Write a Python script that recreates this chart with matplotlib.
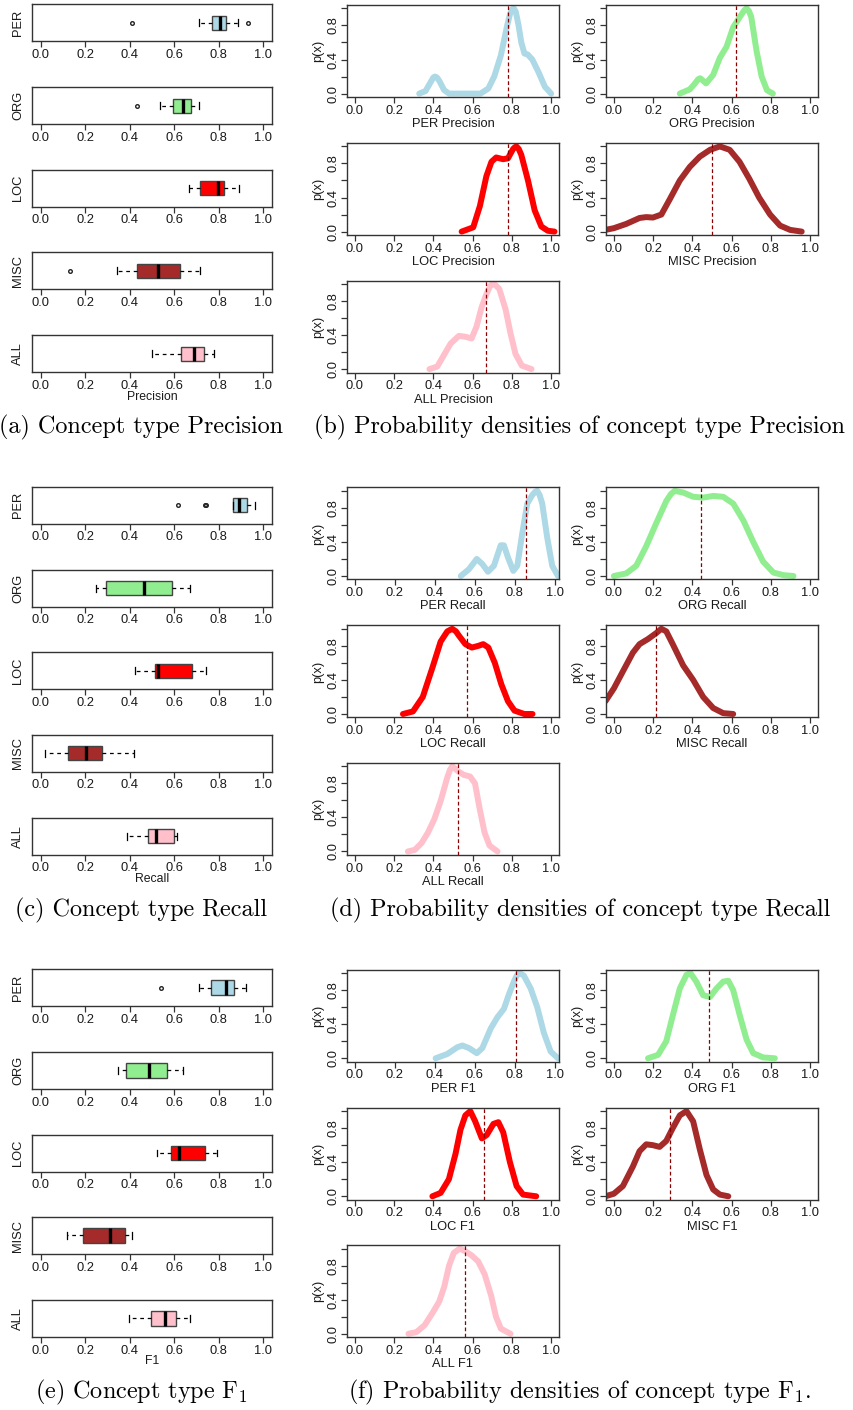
import matplotlib
matplotlib.use("Agg")
import matplotlib.pyplot as plt

plt.rcParams['font.family'] = ['Liberation Sans', 'DejaVu Sans']
plt.rcParams['mathtext.fontset'] = 'cm'

W, H = 854, 1410

categories = ["PER", "ORG", "LOC", "MISC", "ALL"]
cat_colors = ["#ADD8E6", "#90EE90", "#FF0000", "#A52A2A", "#FFC0CB"]
metrics = ["Precision", "Recall", "F1"]
tick_vals = [0.0, 0.2, 0.4, 0.6, 0.8, 1.0]
tick_labels = ["0.0", "0.2", "0.4", "0.6", "0.8", "1.0"]
ytick_labels = ["0.0", "", "0.4", "", "0.8", ""]

# ---------------- box plot statistics ----------------
prec_whislo = [0.712, 0.535, 0.667, 0.343, 0.500]
prec_q1 = [0.771, 0.595, 0.715, 0.432, 0.632]
prec_med = [0.804, 0.639, 0.795, 0.526, 0.690]
prec_q3 = [0.831, 0.675, 0.824, 0.625, 0.736]
prec_whishi = [0.886, 0.712, 0.893, 0.715, 0.780]
prec_fliers = [[0.411, 0.931], [0.434], [], [0.133], []]

rec_whislo = [0.865, 0.249, 0.424, 0.018, 0.389]
rec_q1 = [0.866, 0.291, 0.513, 0.120, 0.483]
rec_med = [0.891, 0.466, 0.529, 0.205, 0.520]
rec_q3 = [0.926, 0.588, 0.680, 0.277, 0.599]
rec_whishi = [0.964, 0.671, 0.742, 0.417, 0.614]
rec_fliers = [[0.617, 0.738, 0.745], [], [], [], []]

f1_whislo = [0.711, 0.346, 0.524, 0.117, 0.396]
f1_q1 = [0.764, 0.381, 0.587, 0.188, 0.494]
f1_med = [0.831, 0.486, 0.620, 0.312, 0.560]
f1_q3 = [0.870, 0.568, 0.738, 0.378, 0.610]
f1_whishi = [0.922, 0.640, 0.794, 0.411, 0.670]
f1_fliers = [[0.542], [], [], [], []]

# ---------------- density curves (normalised) ----------------
P_PER_x = [0.328, 0.36, 0.39, 0.400, 0.408, 0.418, 0.43, 0.455, 0.48, 0.55, 0.64, 0.68, 0.71, 0.744, 0.776, 0.79, 0.80, 0.81, 0.82, 0.834, 0.848, 0.864, 0.88, 0.904, 0.936, 0.968, 1.0]
P_PER_y = [0.0, 0.03, 0.15, 0.19, 0.2, 0.19, 0.15, 0.04, 0.0, 0.0, 0.0, 0.06, 0.2, 0.45, 0.8, 0.93, 0.99, 1.0, 0.96, 0.8, 0.6, 0.47, 0.46, 0.4, 0.25, 0.08, 0.0]
P_ORG_x = [0.336, 0.387, 0.41, 0.43, 0.44, 0.47, 0.506, 0.54, 0.574, 0.608, 0.642, 0.665, 0.676, 0.688, 0.70, 0.727, 0.753, 0.78, 0.81]
P_ORG_y = [0.0, 0.05, 0.11, 0.17, 0.18, 0.12, 0.22, 0.42, 0.55, 0.78, 0.9, 0.98, 1.0, 0.97, 0.9, 0.5, 0.2, 0.04, 0.0]
P_LOC_x = [0.544, 0.603, 0.637, 0.67, 0.696, 0.72, 0.755, 0.78, 0.806, 0.815, 0.823, 0.835, 0.848, 0.882, 0.916, 0.95, 0.983, 1.017]
P_LOC_y = [0.0, 0.05, 0.3, 0.65, 0.82, 0.87, 0.85, 0.86, 0.97, 0.99, 1.0, 0.97, 0.9, 0.6, 0.25, 0.06, 0.01, 0.0]
P_MISC_x = [-0.043, 0.0, 0.063, 0.131, 0.165, 0.199, 0.242, 0.285, 0.336, 0.387, 0.438, 0.49, 0.54, 0.59, 0.64, 0.69, 0.74, 0.796, 0.847, 0.898, 0.957]
P_MISC_y = [0.02, 0.04, 0.09, 0.16, 0.17, 0.165, 0.2, 0.38, 0.6, 0.76, 0.88, 0.96, 1.0, 0.96, 0.82, 0.62, 0.4, 0.2, 0.07, 0.02, 0.0]
P_ALL_x = [0.38, 0.42, 0.455, 0.488, 0.53, 0.562, 0.595, 0.62, 0.645, 0.67, 0.69, 0.702, 0.715, 0.736, 0.768, 0.793, 0.818, 0.851, 0.9]
P_ALL_y = [0.0, 0.03, 0.17, 0.3, 0.39, 0.38, 0.36, 0.5, 0.72, 0.88, 0.98, 1.0, 0.99, 0.94, 0.7, 0.42, 0.18, 0.04, 0.0]

R_PER_x = [0.53, 0.571, 0.61, 0.638, 0.666, 0.696, 0.73, 0.746, 0.766, 0.793, 0.813, 0.838, 0.863, 0.888, 0.903, 0.913, 0.925, 0.938, 0.963, 0.988, 1.017]
R_PER_y = [0.0, 0.08, 0.2, 0.14, 0.05, 0.12, 0.36, 0.36, 0.22, 0.06, 0.12, 0.5, 0.85, 0.95, 0.99, 1.0, 0.95, 0.85, 0.45, 0.12, 0.0]
R_ORG_x = [0.0, 0.063, 0.114, 0.165, 0.216, 0.267, 0.29, 0.31, 0.33, 0.353, 0.404, 0.455, 0.506, 0.557, 0.608, 0.66, 0.71, 0.76, 0.813, 0.864, 0.915]
R_ORG_y = [0.0, 0.03, 0.12, 0.35, 0.62, 0.88, 0.96, 1.0, 0.99, 0.98, 0.93, 0.92, 0.94, 0.93, 0.85, 0.65, 0.4, 0.17, 0.04, 0.01, 0.0]
R_LOC_x = [0.245, 0.296, 0.346, 0.396, 0.437, 0.471, 0.496, 0.515, 0.53, 0.563, 0.596, 0.629, 0.654, 0.68, 0.713, 0.746, 0.78, 0.813, 0.863, 0.905]
R_LOC_y = [0.0, 0.03, 0.2, 0.55, 0.85, 0.97, 1.0, 0.97, 0.92, 0.82, 0.78, 0.8, 0.82, 0.78, 0.6, 0.35, 0.15, 0.04, 0.0, 0.0]
R_MISC_x = [-0.043, 0.0, 0.046, 0.097, 0.131, 0.174, 0.216, 0.242, 0.267, 0.30, 0.353, 0.404, 0.455, 0.506, 0.557, 0.608]
R_MISC_y = [0.15, 0.3, 0.5, 0.72, 0.82, 0.88, 0.95, 1.0, 0.97, 0.82, 0.57, 0.4, 0.2, 0.07, 0.01, 0.0]
R_ALL_x = [0.27, 0.306, 0.34, 0.372, 0.405, 0.438, 0.471, 0.485, 0.496, 0.508, 0.521, 0.554, 0.587, 0.612, 0.636, 0.661, 0.686, 0.727]
R_ALL_y = [0.0, 0.02, 0.1, 0.22, 0.38, 0.6, 0.87, 0.96, 1.0, 0.98, 0.95, 0.9, 0.88, 0.8, 0.5, 0.22, 0.07, 0.0]

F_PER_x = [0.404, 0.462, 0.513, 0.538, 0.571, 0.61, 0.638, 0.68, 0.713, 0.746, 0.771, 0.796, 0.81, 0.821, 0.833, 0.846, 0.88, 0.913, 0.946, 0.98, 1.017]
F_PER_y = [0.0, 0.05, 0.13, 0.15, 0.12, 0.06, 0.12, 0.35, 0.48, 0.58, 0.75, 0.9, 0.97, 1.0, 0.99, 0.97, 0.82, 0.6, 0.3, 0.08, 0.0]
F_ORG_x = [0.174, 0.225, 0.267, 0.30, 0.336, 0.37, 0.39, 0.42, 0.455, 0.49, 0.523, 0.557, 0.583, 0.608, 0.642, 0.676, 0.71, 0.761, 0.82]
F_ORG_y = [0.0, 0.04, 0.2, 0.5, 0.82, 0.98, 1.0, 0.9, 0.74, 0.72, 0.82, 0.9, 0.91, 0.8, 0.5, 0.22, 0.06, 0.01, 0.0]
F_LOC_x = [0.395, 0.437, 0.479, 0.513, 0.538, 0.563, 0.588, 0.613, 0.647, 0.672, 0.706, 0.731, 0.756, 0.79, 0.824, 0.857, 0.924]
F_LOC_y = [0.0, 0.04, 0.2, 0.5, 0.78, 0.95, 1.0, 0.88, 0.68, 0.72, 0.85, 0.87, 0.75, 0.4, 0.12, 0.02, 0.0]
F_MISC_x = [-0.043, 0.0, 0.046, 0.097, 0.131, 0.165, 0.199, 0.233, 0.267, 0.30, 0.336, 0.37, 0.404, 0.438, 0.472, 0.506, 0.54, 0.583]
F_MISC_y = [0.0, 0.03, 0.12, 0.35, 0.53, 0.61, 0.6, 0.58, 0.65, 0.8, 0.95, 1.0, 0.88, 0.55, 0.25, 0.08, 0.02, 0.0]
F_ALL_x = [0.273, 0.314, 0.355, 0.397, 0.43, 0.455, 0.48, 0.504, 0.534, 0.562, 0.595, 0.628, 0.661, 0.694, 0.719, 0.744, 0.793]
F_ALL_y = [0.0, 0.02, 0.1, 0.25, 0.38, 0.55, 0.8, 0.95, 1.0, 0.97, 0.92, 0.85, 0.7, 0.45, 0.2, 0.06, 0.0]

prec_mean = [0.78, 0.62, 0.78, 0.50, 0.666]
rec_mean = [0.857, 0.446, 0.57, 0.216, 0.524]
f1_mean = [0.805, 0.486, 0.659, 0.288, 0.559]

box_stats = {
    "Precision": (prec_whislo, prec_q1, prec_med, prec_q3, prec_whishi, prec_fliers),
    "Recall": (rec_whislo, rec_q1, rec_med, rec_q3, rec_whishi, rec_fliers),
    "F1": (f1_whislo, f1_q1, f1_med, f1_q3, f1_whishi, f1_fliers),
}
dens = {
    "Precision": [(P_PER_x, P_PER_y), (P_ORG_x, P_ORG_y), (P_LOC_x, P_LOC_y), (P_MISC_x, P_MISC_y), (P_ALL_x, P_ALL_y)],
    "Recall": [(R_PER_x, R_PER_y), (R_ORG_x, R_ORG_y), (R_LOC_x, R_LOC_y), (R_MISC_x, R_MISC_y), (R_ALL_x, R_ALL_y)],
    "F1": [(F_PER_x, F_PER_y), (F_ORG_x, F_ORG_y), (F_LOC_x, F_LOC_y), (F_MISC_x, F_MISC_y), (F_ALL_x, F_ALL_y)],
}
means = {"Precision": prec_mean, "Recall": rec_mean, "F1": f1_mean}
captions_left = ["(a) Concept type Precision", "(c) Concept type Recall", r"(e) Concept type F$_1$"]
captions_right = ["(b) Probability densities of concept type Precision",
                  "(d) Probability densities of concept type Recall",
                  r"(f) Probability densities of concept type F$_1$."]

FRAME = "#333333"
TXT = "#1a1a1a"
TFS = 9.3

fig = plt.figure(figsize=(W / 100, H / 100), dpi=100)


def add_ax(x, y, w, h):
    return fig.add_axes([x / W, 1 - (y + h) / H, w / W, h / H])


def style_frame(ax):
    for s in ax.spines.values():
        s.set_color(FRAME)
        s.set_linewidth(1.0)
    ax.tick_params(axis="both", colors=FRAME, labelcolor=TXT, labelsize=TFS,
                   length=4, width=0.9, pad=1.5)


section_top = [4.3, 486.7, 969.0]
box_offsets = [0, 83, 165.5, 248, 331]
dens_offsets = [0, 138, 275.5]

for si, metric in enumerate(metrics):
    top = section_top[si]
    wl, q1, md, q3, wh, fl = box_stats[metric]
    # ---- box plots ----
    for ci, cat in enumerate(categories):
        ax = add_ax(32, top + box_offsets[ci], 240, 37)
        st = [dict(whislo=wl[ci], q1=q1[ci], med=md[ci], q3=q3[ci], whishi=wh[ci], fliers=fl[ci])]
        ax.bxp(st, positions=[1], widths=0.42, orientation="horizontal", patch_artist=True,
               showfliers=True, capwidths=0.2,
               boxprops=dict(facecolor=cat_colors[ci], edgecolor="#444444", linewidth=1.0),
               medianprops=dict(color="black", linewidth=2.4, solid_capstyle="butt"),
               whiskerprops=dict(color="black", linestyle=(0, (3, 3)), linewidth=0.9),
               capprops=dict(color="black", linewidth=0.9),
               flierprops=dict(marker="o", markersize=2.6, markerfacecolor="none",
                               markeredgecolor="#222222", markeredgewidth=1.0))
        ax.set_xlim(-0.04, 1.04)
        ax.set_ylim(0.46, 1.54)
        ax.set_xticks(tick_vals)
        ax.set_xticklabels(tick_labels)
        ax.set_yticks([])
        style_frame(ax)
        ax.text(-14 / 240, 0.5, cat, rotation=90, ha="center", va="center",
                transform=ax.transAxes, fontsize=TFS, color=TXT)
    fig.text(152 / W, 1 - (top + 392.5) / H, metric, ha="center", va="center",
             fontsize=8.8, color=TXT)

    # ---- density plots ----
    for ci, cat in enumerate(categories):
        col = ci % 2
        row = ci // 2
        x0 = 347 if col == 0 else 606
        ax = add_ax(x0, top + 0.7 + dens_offsets[row], 212, 92)
        xs, ys = dens[metric][ci]
        ax.plot(xs, ys, color=cat_colors[ci], linewidth=4.3,
                solid_capstyle="round", solid_joinstyle="round")
        ax.axvline(means[metric][ci], color="#8B0000", linestyle=(0, (3, 2)), linewidth=0.9)
        if ci == 0 and metric in ("Recall", "F1"):
            ax.set_xlim(-0.04, 1.022)
        else:
            ax.set_xlim(-0.04, 1.04)
        ax.set_ylim(-0.04, 1.04)
        ax.set_xticks(tick_vals)
        ax.set_xticklabels(tick_labels)
        ax.set_yticks(tick_vals)
        ax.set_yticklabels(ytick_labels, rotation=90, va="center")
        style_frame(ax)
        ax.set_xlabel(cat + " " + metric, fontsize=TFS, color=TXT, labelpad=1.0)
        ax.text(-29 / 212, 0.5, "p(x)", rotation=90, ha="center", va="center",
                transform=ax.transAxes, fontsize=TFS, color=TXT)

    # ---- captions ----
    cy = 1 - (top + 423.5) / H
    fig.text(141 / W, cy, captions_left[si], ha="center", va="center",
             fontsize=17.4, family="cmr10", color="black")
    fig.text(580 / W, cy, captions_right[si], ha="center", va="center",
             fontsize=17.4, family="cmr10", color="black")

fig.savefig("out.png", dpi=100, facecolor="white")
